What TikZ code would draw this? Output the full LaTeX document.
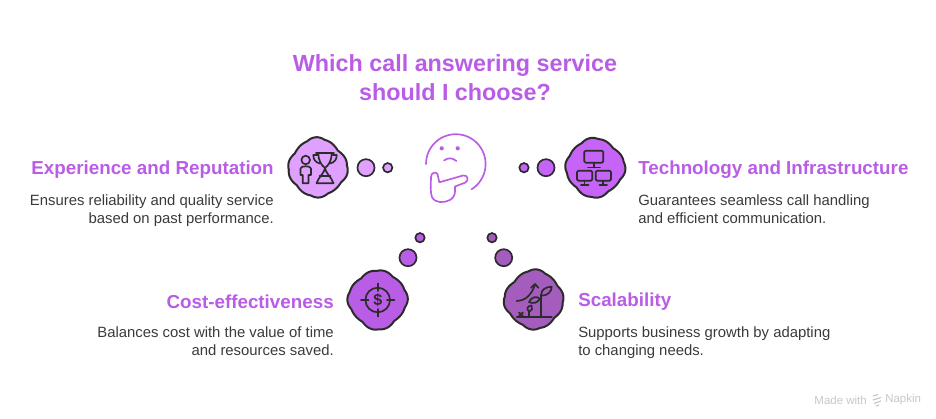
\documentclass[tikz,border=0pt]{standalone}
\usepackage{fontspec}
\setmainfont{Liberation Sans}
\usetikzlibrary{positioning}
\definecolor{titlepurple}{HTML}{B95CE6}
\definecolor{bodygrey}{HTML}{3A3A3A}
\definecolor{inkgrey}{HTML}{2B2B2B}
\definecolor{expfill}{HTML}{DFA0FF}
\definecolor{techfill}{HTML}{C664F8}
\definecolor{costfill}{HTML}{B95CE6}
\definecolor{scalefill}{HTML}{A45DBD}
\tikzset{
	bigdot/.style={circle, draw=inkgrey, line width=1.25pt, minimum size=12.8pt, inner sep=0pt},
	smalldot/.style={circle, draw=inkgrey, line width=1.25pt, minimum size=7pt, inner sep=0pt},
	head/.style={font=\fontsize{14.1}{17}\selectfont\bfseries, text=titlepurple, inner sep=0pt},
	bodytext/.style={font=\fontsize{11.15}{13.5}\selectfont, text=bodygrey, inner sep=0pt},
	icon/.style={draw=inkgrey, line width=1.25pt, line join=round, line cap=round},
	face/.style={draw=titlepurple, line width=1.25pt, line cap=round, line join=round},
}
% name, x, y, fill, phase of the bumps
\newcommand{\drawblob}[5]{
	\coordinate (#1) at (#2,#3);
	\draw[draw=inkgrey, line width=1.5pt, fill=#4, shift={(#1)}] plot[smooth cycle, domain=0:358, samples=180] ({(28+1.2*cos(4*\x)+1*abs(sin(5*\x+#5))+0.4*sin(3*\x+2*#5))*cos(\x)},{(28+1.2*cos(4*\x)+1*abs(sin(5*\x+#5))+0.4*sin(3*\x+2*#5))*sin(\x)});
}
\begin{document}
\begin{tikzpicture}[x=0.75pt, y=-0.75pt]
	\useasboundingbox (0,0) rectangle (936,418);

	\node[font=\fontsize{17.5}{21.75}\selectfont\bfseries, text=titlepurple, align=center, inner sep=0pt] (title) at (455,78) {Which call answering service\\should I choose?};

	% texts
	\node[head, anchor=east] (exphead) at (274,170) {Experience and Reputation};
	\node[bodytext, anchor=north east, align=right] (expbody) at (274,194) {Ensures reliability and quality service\\based on past performance.};
	\node[head, anchor=west] (techhead) at (638,170) {Technology and Infrastructure};
	\node[bodytext, anchor=north west, align=left] (techbody) at (638,194) {Guarantees seamless call handling\\and efficient communication.};
	\node[head, anchor=east] (costhead) at (334,302) {Cost-effectiveness};
	\node[bodytext, anchor=north east, align=right] (costbody) at (334,326) {Balances cost with the value of time\\and resources saved.};
	\node[head, anchor=west] (scalehead) at (578,302) {Scalability};
	\node[bodytext, anchor=north west, align=left] (scalebody) at (578,326) {Supports business growth by adapting\\to changing needs.};

	% blobs and dots
	\drawblob{expblob}{317.7}{167.7}{expfill}{20}
	\drawblob{techblob}{595}{167.7}{techfill}{55}
	\drawblob{costblob}{377.7}{299.7}{costfill}{100}
	\drawblob{scaleblob}{534}{299.7}{scalefill}{150}
	\node[bigdot, fill=expfill] (expbig) at (366,167.7) {};
	\node[smalldot, fill=expfill] (expsmall) at (387.7,167.7) {};
	\node[bigdot, fill=techfill] (techbig) at (546,167.7) {};
	\node[smalldot, fill=techfill] (techsmall) at (524,167.7) {};
	\node[bigdot, fill=costfill] (costbig) at (408,257.7) {};
	\node[smalldot, fill=costfill] (costsmall) at (420,237.7) {};
	\node[bigdot, fill=scalefill] (scalebig) at (503.7,257.7) {};
	\node[smalldot, fill=scalefill] (scalesmall) at (492,237.7) {};

	% thinking face
	\draw[face] plot[smooth, domain=-180:58, samples=40] ({455.8+29.8*cos(\x)},{164+29.8*sin(\x)});
	\fill[titlepurple] (441.7,148.3) circle (2.1) (457.7,148.3) circle (2.1);
	\draw[face] (444,160.5) .. controls (448,157.5) and (452,157.5) .. (456.5,161);
	\draw[face] (439.3,182.3) -- (463,175.5) .. controls (468,174.5) and (469,180.5) .. (465.5,182.5) -- (455,186.5) .. controls (455,192) and (456,196) .. (450,200) .. controls (444,203) and (435,203.5) .. (432,197) .. controls (430,192) and (431,182) .. (431,177) .. controls (431,172.5) and (436,171.5) .. (437.5,174) -- (439.3,182.3);

	% person and trophy
	\draw[icon] (305.7,160) circle (4.3);
	\draw[icon] (302.7,183.3) -- (302.7,175) -- (300.5,175) -- (300.5,168.5) .. controls (300.5,165.5) and (311,165.5) .. (311,168.5) -- (311,175) -- (308.5,175) -- (308.5,183.3) -- cycle;
	\draw[icon] (316,153.3) -- (334,153.3);
	\draw[icon] (318.3,153.3) .. controls (318.3,160) and (321,165) .. (325,168) .. controls (329,165) and (331.7,160) .. (331.7,153.3);
	\draw[icon] (317.5,155) -- (313.3,155) .. controls (313.3,159.5) and (315.5,162.5) .. (320,163.5);
	\draw[icon] (332.5,155) -- (336.7,155) .. controls (336.7,159.5) and (334.5,162.5) .. (330,163.5);
	\draw[icon] (325,168) .. controls (325,172) and (318,178) .. (316.5,183.3) -- (333.5,183.3) .. controls (332,178) and (325,172) .. (325,168);
	\draw[icon] (319.5,176) -- (330.5,176);

	% network
	\draw[icon, rounded corners=1pt] (584.3,150.7) rectangle (603.3,162.7);
	\draw[icon, rounded corners=1pt] (577,170.7) rectangle (592.3,180.7);
	\draw[icon, rounded corners=1pt] (595.7,170.7) rectangle (611,180.7);
	\draw[icon] (593.8,162.7) -- (593.8,167.5) (588,167.5) -- (600,167.5);
	\draw[icon] (584.6,180.7) -- (584.6,185) (581,185) -- (588.5,185);
	\draw[icon] (603.3,180.7) -- (603.3,185) (599.5,185) -- (607,185);

	% target
	\draw[icon] (377.7,300) circle (12.3);
	\draw[icon] (361,300) -- (368.5,300) (387,300) -- (394.5,300) (377.7,283.5) -- (377.7,291) (377.7,309) -- (377.7,316.5);
	\node[font=\fontsize{12}{13}\selectfont\bfseries, text=inkgrey, inner sep=0pt] (dollar) at (377.7,300) {\$};

	% growth
	\draw[icon] (516.7,316.7) -- (551.7,316.7);
	\draw[icon] (516.7,301) .. controls (526,300.5) and (531,295) .. (535,285);
	\draw[icon] (531,287.7) -- (535,284) -- (538.3,287.7);
	\draw[icon] (540.7,316.7) -- (540.7,295);
	\draw[icon] (541,295.7) .. controls (541,289) and (546,287) .. (551.7,286.7) .. controls (551.7,292) and (547,296) .. (541,295.7);
	\draw[icon] (540,299) .. controls (537,295.5) and (531,297) .. (529,302) .. controls (533,304) and (537,303) .. (540,299);
	\draw[icon] (529.3,316.7) -- (529.3,311.7);
	\draw[icon] (529.3,311.7) .. controls (526,309) and (527,306) .. (531.5,305.5) .. controls (533,308) and (532,311) .. (529.3,311.7);
	\draw[icon] (519,312.5) -- (523,316) (523,312.5) -- (519,316);

	% watermark
	\node[font=\fontsize{8.6}{10}\selectfont, text=black!22, inner sep=0pt, anchor=east] (made) at (867,400) {Made with};
	\draw[black!22, line width=0.9pt] (873,396) -- (878,394.5) (873,400) -- (881,397.5) (874,403.5) -- (881,401) (876,406) -- (879,405);
	\node[font=\fontsize{8.6}{10}\selectfont, text=black!22, inner sep=0pt, anchor=west] (napkin) at (885,400) {Napkin};
\end{tikzpicture}
\end{document}
